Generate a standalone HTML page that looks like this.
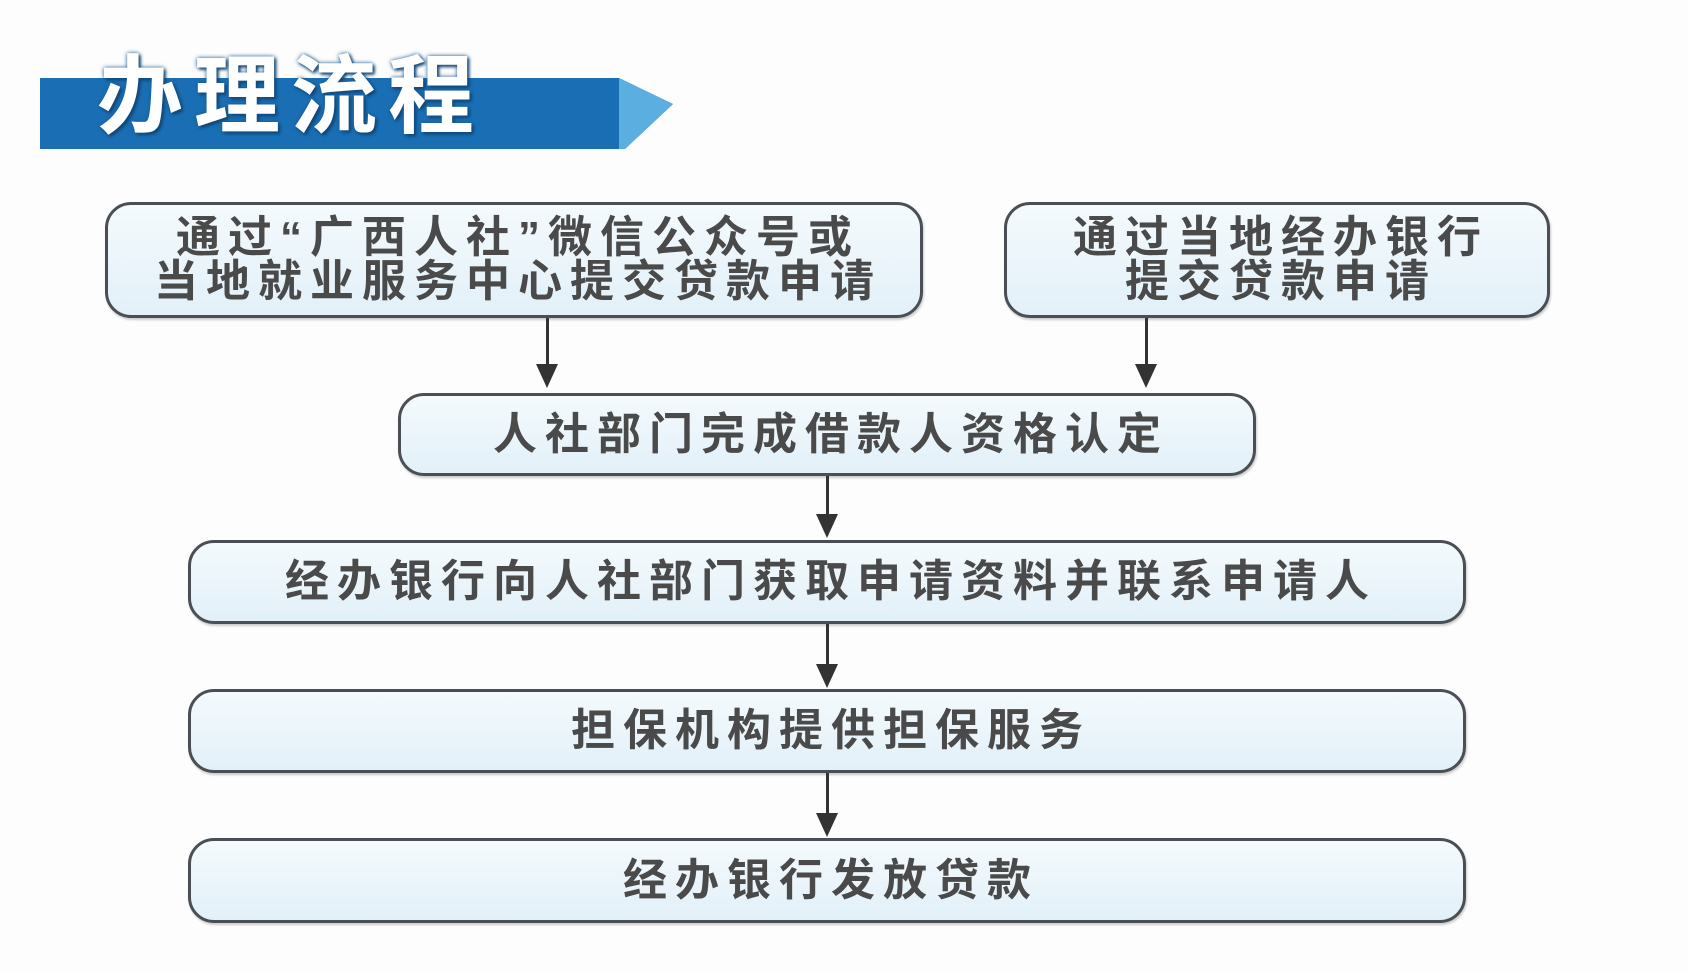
<!DOCTYPE html>
<html><head><meta charset="utf-8"><style>
body{margin:0;width:1688px;height:971px;background:#fdfdfd;position:relative;overflow:hidden;font-family:"Liberation Sans","Noto Sans CJK SC",sans-serif}
.b{position:absolute;box-sizing:border-box;border:3px solid #4a4f55;border-radius:26px;background:linear-gradient(#f4fafd,#e2f0f8);color:#4a4a4a;font-weight:bold;font-size:44px;letter-spacing:8px;padding-left:8px;display:flex;align-items:center;justify-content:center;text-align:center;line-height:44px;box-shadow:1px 2px 2px rgba(0,0,0,.2)}
.l{position:absolute;width:3px;background:#333}
.a{position:absolute;width:0;height:0;border-left:11px solid transparent;border-right:11px solid transparent;border-top:24px solid #333}
</style></head><body>
<svg style="position:absolute;left:0;top:0" width="700" height="160">
<polygon points="40,78 619,78 673,104 625,149 40,149" fill="#1a6fb4"/>
<polygon points="619,78 673,104 625,149 619,149" fill="#5aaee0"/>
</svg>
<div style="position:absolute;left:97px;top:26px;font-size:86px;font-weight:bold;color:#fff;letter-spacing:11px;text-shadow:0 0 4px #1a5a90,2px 2px 3px #0d3a66">办理流程</div>
<div class="b" style="left:105px;top:202px;width:818px;height:116px">通过“广西人社”微信公众号或<br>当地就业服务中心提交贷款申请</div>
<div class="b" style="left:1004px;top:202px;width:546px;height:116px">通过当地经办银行<br>提交贷款申请</div>
<div class="l" style="left:546px;top:318px;height:48px"></div><div class="a" style="left:536px;top:364px"></div>
<div class="l" style="left:1145px;top:318px;height:48px"></div><div class="a" style="left:1135px;top:364px"></div>
<div class="b" style="left:398px;top:393px;width:858px;height:83px">人社部门完成借款人资格认定</div>
<div class="l" style="left:826px;top:476px;height:40px"></div><div class="a" style="left:816px;top:514px"></div>
<div class="b" style="left:188px;top:540px;width:1278px;height:84px">经办银行向人社部门获取申请资料并联系申请人</div>
<div class="l" style="left:826px;top:624px;height:42px"></div><div class="a" style="left:816px;top:664px"></div>
<div class="b" style="left:188px;top:689px;width:1278px;height:84px">担保机构提供担保服务</div>
<div class="l" style="left:826px;top:773px;height:42px"></div><div class="a" style="left:816px;top:813px"></div>
<div class="b" style="left:188px;top:838px;width:1278px;height:85px">经办银行发放贷款</div>
</body></html>
